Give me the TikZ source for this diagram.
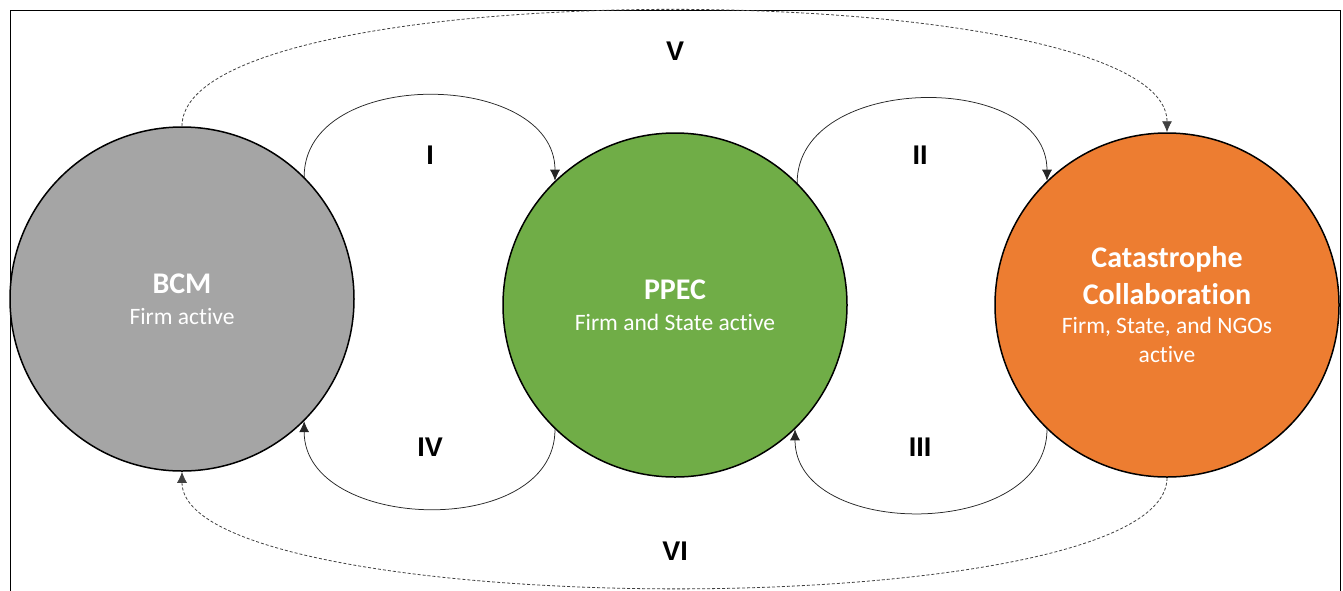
\documentclass[tikz,border=0pt]{standalone}
\usepackage{fontspec}
\setmainfont{Carlito}[Ligatures=NoCommon]
\newfontfamily\numfont{Liberation Sans}
\usepackage{xcolor}
\usetikzlibrary{arrows.meta}
\usetikzlibrary{positioning}

\definecolor{bcmgray}{HTML}{A5A5A5}
\definecolor{ppecgreen}{HTML}{70AD47}
\definecolor{catorange}{HTML}{ED7D31}

\tikzset{
  stage/.style={circle, draw=black, line width=1.5pt, minimum size=344pt, inner sep=0pt,
    align=center, text=white, font=\fontsize{23.5}{29}\selectfont},
  flow/.style={-{Latex[length=11pt,width=10pt]}, line width=0.75pt, draw=black!85},
  jump/.style={flow, dash pattern=on 3pt off 2pt, line width=0.8pt, draw=black!75},
  numlabel/.style={font=\numfont\bfseries\fontsize{27}{30}\selectfont}
}
\newcommand{\stagetitle}[1]{{\bfseries\fontsize{30}{38}\selectfont #1}}

\begin{document}
\begin{tikzpicture}[x=1pt,y=-1pt]
	\useasboundingbox (0,0) rectangle (1343,590);
	% Frame
	\draw[line width=1pt] (10,10) rectangle (1340,600);
	
	% Stages
	\node[stage, fill=bcmgray] (bcm) at (182,299) {\stagetitle{BCM}\\[2pt]Firm active};
	\node[stage, fill=ppecgreen] (ppec) at (675,305) {\stagetitle{PPEC}\\[2pt]Firm and State active};
	\node[stage, fill=catorange] (cat) at (1167,305)
		{\stagetitle{Catastrophe}\\[8pt]\stagetitle{Collaboration}\\[0pt]Firm, State, and NGOs\\active};
	
	% Transitions between neighbours
	\draw[flow] (bcm.45) to[out=90,in=90,looseness=1.13] (ppec.134);
	\draw[flow] (ppec.45) to[out=90,in=90,looseness=1.13] (cat.134);
	\draw[flow] (cat.226) to[out=-90,in=-90,looseness=1.13] (ppec.-46);
	\draw[flow] (ppec.226) to[out=-90,in=-90,looseness=1.13] (bcm.-45);
	
	% Jumps across
	\draw[jump] (bcm.north) to[out=90,in=90,looseness=0.41] (cat.north);
	\draw[jump] (cat.south) to[out=-90,in=-90,looseness=0.39] (bcm.south);
	
	% Labels
	\node[numlabel] (lI) at (430,155) {I};
	\node[numlabel] (lII) at (920,155) {II};
	\node[numlabel] (lIII) at (920,447) {III};
	\node[numlabel] (lIV) at (430,447) {IV};
	\node[numlabel] (lV) at (675,51) {V};
	\node[numlabel] (lVI) at (675,551) {VI};
\end{tikzpicture}
\end{document}
